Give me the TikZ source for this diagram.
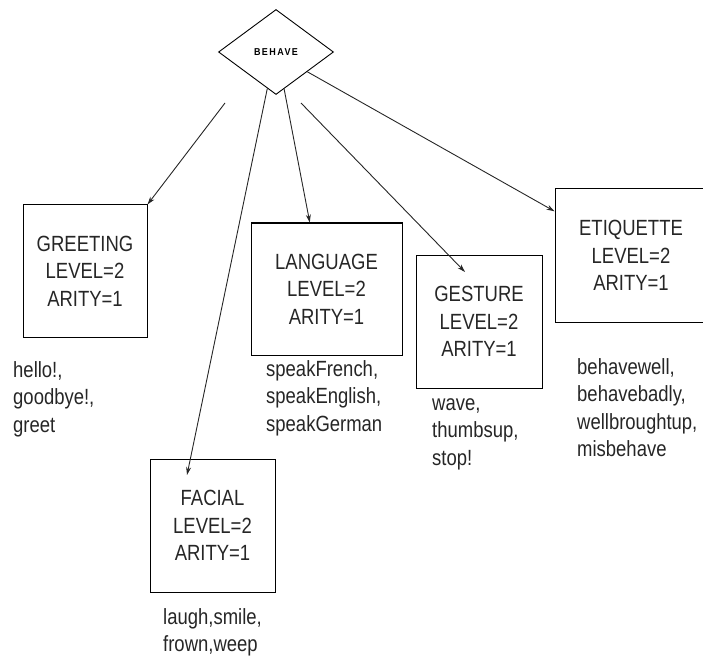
\documentclass[tikz,border=0pt]{standalone}
\usepackage{fontspec}
\setmainfont[FakeStretch=0.84]{Liberation Sans}
\newfontfamily\behfont[LetterSpace=14,FakeStretch=0.9]{Liberation Sans}
\usetikzlibrary{arrows.meta,shapes.geometric,calc}
\begin{document}
\begin{tikzpicture}[x=1pt,y=-1pt,
  catbox/.style={draw=black,line width=1pt,align=center,inner sep=0pt,
     font=\fontsize{22}{27.5}\selectfont,text=black!85},
  words/.style={anchor=north west,align=left,inner sep=0pt,
     font=\fontsize{22}{27.5}\selectfont,text=black!85},
  link/.style={draw=black!85,line width=0.9pt,-{Stealth[length=8pt,width=5pt]}}]
\useasboundingbox (0,0) rectangle (703,660);
% root
\node[diamond,draw=black,line width=0.9pt,minimum width=115pt,minimum height=85pt,inner sep=0pt,
  font=\behfont\bfseries\fontsize{10}{12}\selectfont] (beh) at (276,52) {BEHAVE};
% category boxes
\node[catbox,minimum width=124pt,minimum height=132pt] (gre) at (85,271) {GREETING\\LEVEL=2\\ARITY=1};
\node[catbox,minimum width=151pt,minimum height=132pt] (lan) at (326.5,289) {LANGUAGE\\LEVEL=2\\ARITY=1};
\node[catbox,minimum width=126pt,minimum height=133pt] (ges) at (479,321.5) {GESTURE\\LEVEL=2\\ARITY=1};
\node[catbox,minimum width=152pt,minimum height=133pt] (eti) at (631,255.5) {ETIQUETTE\\LEVEL=2\\ARITY=1};
\node[catbox,minimum width=125pt,minimum height=133pt] (fac) at (212.5,525.5) {FACIAL\\LEVEL=2\\ARITY=1};
% word lists
\node[words] (wgre) at (13,361) {hello!,\\goodbye!,\\greet};
\node[words] (wlan) at (266,360) {speakFrench,\\speakEnglish,\\speakGerman};
\node[words] (wges) at (432,398) {wave,\\thumbsup,\\stop!};
\node[words] (weti) at (577,358) {behavewell,\\behavebadly,\\wellbroughtup,\\misbehave};
\node[words] (wfac) at (163,608) {laugh,smile,\\frown,weep};
% connector end points
\coordinate (gstart) at (225,103);
\coordinate (hstart) at (301,103);
\coordinate (hend) at (465,272);
\coordinate (fend) at (187,475);
% connectors
\draw[link] (gstart) -- (gre.north east);
\draw[link] ($(beh.south)!0.15!(beh.west)$) -- (fend);
\draw[link] ($(beh.south)!0.14!(beh.east)$) -- ($(lan.north west)!0.39!(lan.north east)$);
\draw[link] (hstart) -- (hend);
\draw[link] ($(beh.south)!0.54!(beh.east)$) -- ($(eti.north west)!0.17!(eti.south west)$);
\end{tikzpicture}
\end{document}
